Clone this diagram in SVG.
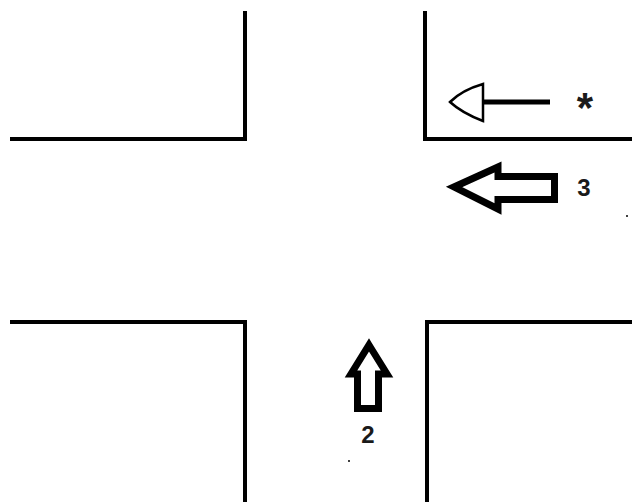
<svg xmlns="http://www.w3.org/2000/svg" width="632" height="502" viewBox="0 0 632 502">
<style>
.wall{fill:none;stroke:#000;stroke-width:4}
.thick{fill:none;stroke:#000;stroke-width:7;stroke-linejoin:miter}
.thin{fill:#fff;stroke:#000;stroke-width:2.5}
text{font-family:"Liberation Sans",Arial,sans-serif;fill:#1a1a1a}
</style>
<rect width="632" height="502" fill="#fff"/>
<g id="corner-top-left"><path class="wall" d="M10 139H245V11"/></g>
<g id="corner-top-right"><path class="wall" d="M425 11V139H632"/></g>
<g id="corner-bottom-left"><path class="wall" d="M10 322H245V502"/></g>
<g id="corner-bottom-right"><path class="wall" d="M632 322H427V502"/></g>
<g id="connectors">
<path d="M483 102H550" fill="none" stroke="#000" stroke-width="5"/>
<path class="thin" d="M483 84Q462 90 450 102Q462 113 483 121Z"/>
<path class="thick" d="M498 167V176.500H554.500V199.500H498V209L454 187Z"/>
<path class="thick" d="M369 345L387 374H378.500V408.500H357.500V374H351Z"/>
</g>
<g id="label-star"><text x="585" y="122" font-size="42" font-weight="bold" text-anchor="middle">*</text></g>
<g id="label-3"><text x="584" y="196" font-size="24" font-weight="bold" text-anchor="middle">3</text></g>
<g id="label-2"><text x="368" y="443" font-size="24" font-weight="bold" text-anchor="middle">2</text></g>
<circle cx="627" cy="216" r="1"/>
<circle cx="349" cy="461" r="1"/>
</svg>
